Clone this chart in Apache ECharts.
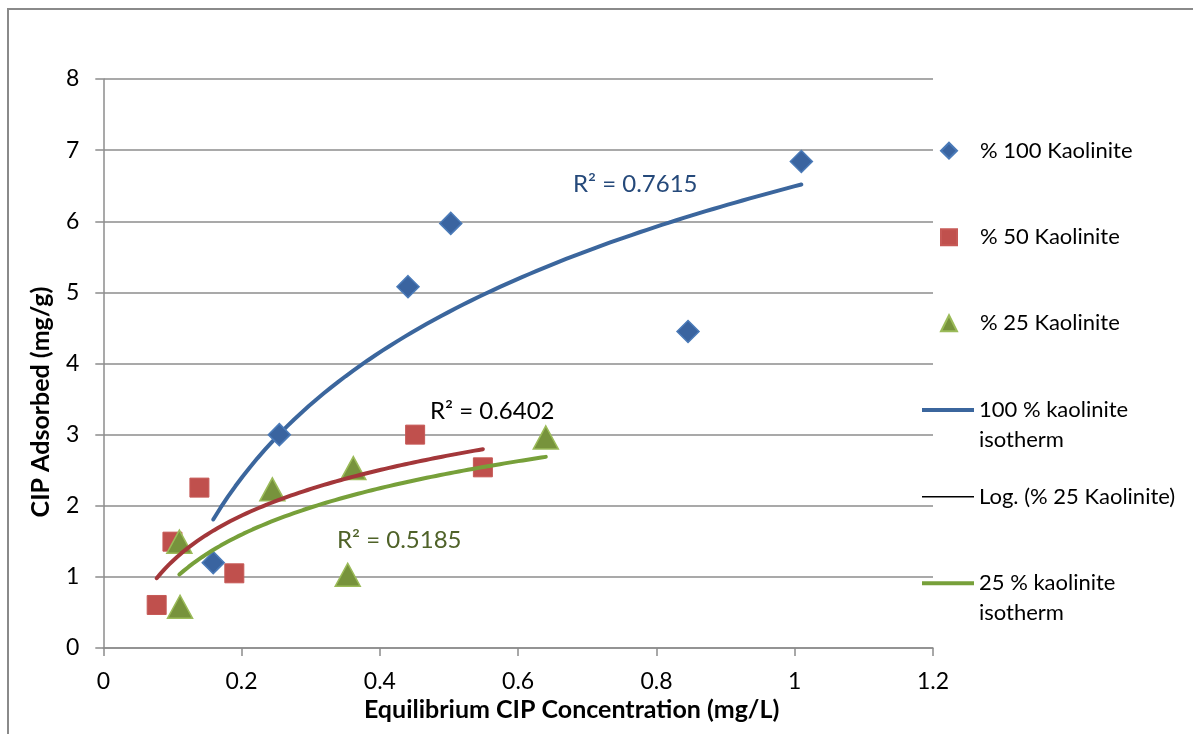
<!DOCTYPE html>
<html>
<head>
<meta charset="utf-8">
<script src="https://cdn.jsdelivr.net/npm/echarts@6/dist/echarts.min.js"></script>
<style>
  html, body { margin: 0; padding: 0; background: #ffffff; }
  #chart { width: 1193px; height: 734px; }
</style>
</head>
<body>
<div id="chart"></div>
<script>
// Measured adsorption points: equilibrium concentration (mg/L) vs adsorbed amount (mg/g)
const kaolinite100X = [0.159, 0.2546, 0.4407, 0.5025, 0.8457, 1.0096];
const kaolinite100Y = [1.20, 3.00, 5.08, 5.97, 4.45, 6.84];
const kaolinite50X = [0.0772, 0.100, 0.139, 0.1895, 0.451, 0.549];
const kaolinite50Y = [0.605, 1.495, 2.255, 1.05, 3.00, 2.54];
const kaolinite25X = [0.110, 0.111, 0.2445, 0.3535, 0.3616, 0.640];
const kaolinite25Y = [1.495, 0.58, 2.23, 1.03, 2.53, 2.96];

// Axis ticks
const xTickLabels = ['0', '0.2', '0.4', '0.6', '0.8', '1', '1.2'];
const yTickLabels = ['0', '1', '2', '3', '4', '5', '6', '7', '8'];

// Coefficients of determination shown next to each isotherm
const rSquaredLabels = ['R\u00b2 = 0.7615', 'R\u00b2 = 0.6402', 'R\u00b2 = 0.5185'];

const FONT = 'Lato, "Open Sans", sans-serif';
const GRID_COLOR = '#8c8c8c';

function pairs(xs, ys) {
  return xs.map((x, i) => [x, ys[i]]);
}

// Least-squares fit of y = a*ln(x) + b, drawn across the range of the measured x values
function logTrend(xs, ys, steps) {
  const lx = xs.map(Math.log);
  const n = xs.length;
  const mx = lx.reduce((s, v) => s + v, 0) / n;
  const my = ys.reduce((s, v) => s + v, 0) / n;
  let sxy = 0, sxx = 0;
  for (let i = 0; i < n; i++) {
    sxy += (lx[i] - mx) * (ys[i] - my);
    sxx += (lx[i] - mx) * (lx[i] - mx);
  }
  const a = sxy / sxx;
  const b = my - a * mx;
  const x0 = Math.min(...xs), x1 = Math.max(...xs);
  const out = [];
  for (let k = 0; k <= steps; k++) {
    const x = x0 + (x1 - x0) * k / steps;
    out.push([x, a * Math.log(x) + b]);
  }
  return out;
}

const chart = echarts.init(document.getElementById('chart'), null, { renderer: 'canvas' });

const LEGEND_TEXT = {
  fontFamily: FONT, fontSize: 22, color: '#000', lineHeight: 30,
  rich: {
    gap: { width: 18 },
    t: { fontFamily: FONT, fontSize: 22, color: '#000', lineHeight: 30 }
  }
};

// Marker entries: small symbol, text pushed right to line up with the line entries
function markerLegend(name, top) {
  return {
    orient: 'vertical', left: 940, top: top, padding: 0,
    itemWidth: 16, itemHeight: 16, selectedMode: false,
    data: [name],
    formatter: (n) => '{gap|}{t|' + n + '}',
    textStyle: LEGEND_TEXT
  };
}
// Line entries: long bar icon; wrapped names keep the icon level with their first line
function lineLegend(name, top, thickness, wrapped) {
  return {
    orient: 'vertical', left: 922, top: top, padding: 0,
    itemWidth: 52, itemHeight: thickness, selectedMode: false,
    data: [{ name: name, icon: 'rect' }],
    formatter: (n) => wrapped ? '\n' + n.replace(' isotherm', '\nisotherm') : n,
    textStyle: { fontFamily: FONT, fontSize: 22, color: '#000', lineHeight: 30 }
  };
}

const option = {
  backgroundColor: '#ffffff',
  animation: false,
  grid: { left: 103.3, right: 260, top: 79, bottom: 86, containLabel: false },
  xAxis: {
    type: 'value',
    min: 0,
    max: 1.2,
    interval: 0.2,
    name: 'Equilibrium CIP Concentration (mg/L)',
    nameLocation: 'middle',
    nameGap: 47,
    nameTextStyle: {
      fontFamily: FONT, fontSize: 25, fontWeight: 'bold', color: '#000',
      padding: [0, 0, 0, 107]
    },
    axisLine: { show: true, lineStyle: { color: GRID_COLOR, width: 1.5 } },
    axisTick: { show: true, inside: false, length: 8, lineStyle: { color: GRID_COLOR, width: 1.5 } },
    splitLine: { show: false },
    axisLabel: {
      fontFamily: FONT, fontSize: 23, color: '#000', margin: 22,
      formatter: (v) => xTickLabels[Math.round(v / 0.2)]
    }
  },
  yAxis: {
    type: 'value',
    min: 0,
    max: 8,
    interval: 1,
    name: 'CIP Adsorbed (mg/g)',
    nameLocation: 'middle',
    nameGap: 50,
    nameTextStyle: {
      fontFamily: FONT, fontSize: 25, fontWeight: 'bold', color: '#000',
      padding: [0, 77, 0, 0]
    },
    axisLine: { show: true, lineStyle: { color: GRID_COLOR, width: 1.5 } },
    axisTick: { show: true, inside: false, length: 8, lineStyle: { color: GRID_COLOR, width: 1.5 } },
    splitLine: { show: true, lineStyle: { color: GRID_COLOR, width: 1.5 } },
    axisLabel: {
      fontFamily: FONT, fontSize: 23, color: '#000', margin: 24,
      formatter: (v) => yTickLabels[Math.round(v)]
    }
  },
  legend: [
    markerLegend('% 100 Kaolinite', 135.7),
    markerLegend('% 50 Kaolinite', 222.3),
    markerLegend('% 25 Kaolinite', 308.3),
    lineLegend('100 % kaolinite isotherm', 365, 4, true),
    lineLegend('Log. (% 25 Kaolinite)', 481.7, 1.5, false),
    lineLegend('25 % kaolinite isotherm', 538.3, 4, true)
  ],
  graphic: [
    {
      type: 'rect',
      shape: { x: 8, y: 9, width: 1400, height: 1000 },
      style: { fill: 'none', stroke: '#8a8a8a', lineWidth: 2 },
      silent: true
    },
    {
      type: 'text', left: 573, top: 172,
      style: { text: rSquaredLabels[0], font: '24px ' + FONT, fill: '#25497a' }
    },
    {
      type: 'text', left: 430, top: 399,
      style: { text: rSquaredLabels[1], font: '24px ' + FONT, fill: '#000000' }
    },
    {
      type: 'text', left: 337, top: 528,
      style: { text: rSquaredLabels[2], font: '24px ' + FONT, fill: '#4f6228' }
    }
  ],
  series: [
    {
      name: '100 % kaolinite isotherm',
      type: 'line',
      data: logTrend(kaolinite100X, kaolinite100Y, 80),
      showSymbol: false,
      symbol: 'none',
      z: 1,
      lineStyle: { color: '#3b669d', width: 4, cap: 'round' },
      itemStyle: { color: '#3b669d' }
    },
    {
      name: '% 100 Kaolinite',
      type: 'scatter',
      symbol: 'diamond',
      symbolSize: 22,
      z: 2,
      data: pairs(kaolinite100X, kaolinite100Y),
      itemStyle: { color: '#3a64a0', borderColor: '#4a7ab8', borderWidth: 1.5, opacity: 1 }
    },
    {
      name: '% 50 Kaolinite',
      type: 'scatter',
      symbol: 'rect',
      symbolSize: 19,
      z: 2,
      data: pairs(kaolinite50X, kaolinite50Y),
      itemStyle: { color: '#c0504d', borderColor: '#c65956', borderWidth: 1, opacity: 1 }
    },
    {
      name: '% 25 Kaolinite',
      type: 'scatter',
      symbol: 'triangle',
      symbolSize: [25, 23],
      z: 2,
      data: pairs(kaolinite25X, kaolinite25Y),
      itemStyle: { color: '#77933c', borderColor: '#9bbb59', borderWidth: 1.5, opacity: 1 }
    },
    {
      name: '50 % kaolinite isotherm',
      type: 'line',
      data: logTrend(kaolinite50X, kaolinite50Y, 80),
      showSymbol: false,
      symbol: 'none',
      z: 3,
      lineStyle: { color: '#a3373a', width: 4, cap: 'round' },
      itemStyle: { color: '#a3373a' }
    },
    {
      name: 'Log. (% 25 Kaolinite)',
      type: 'line',
      data: [],
      showSymbol: false,
      symbol: 'none',
      z: 3,
      lineStyle: { color: '#000000', width: 1.5 },
      itemStyle: { color: '#000000' }
    },
    {
      name: '25 % kaolinite isotherm',
      type: 'line',
      data: logTrend(kaolinite25X, kaolinite25Y, 80),
      showSymbol: false,
      symbol: 'none',
      z: 3,
      lineStyle: { color: '#77a03a', width: 4, cap: 'round' },
      itemStyle: { color: '#77a03a' }
    }
  ]
};

chart.setOption(option);
</script>
</body>
</html>
